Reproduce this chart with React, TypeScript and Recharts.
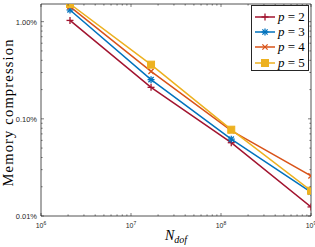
import { Legend, Line, LineChart, ReferenceArea, XAxis, YAxis } from 'recharts'

// problem sizes (degrees of freedom)
const nDof = [2.1e6, 1.67e7, 1.3e8, 1.0e9]

// memory compression in percent
const p2 = [1.03, 0.211, 0.0568, 0.0124]
const p3 = [1.32, 0.253, 0.0618, 0.0176]
const p4 = [1.43, 0.308, 0.0755, 0.0259]
const p5 = [1.52, 0.361, 0.0773, 0.0182]

const xMajor = [1e6, 1e7, 1e8, 1e9]
const yMajor = [0.01, 0.1, 1]
const yLabels = ['0.01%', '0.10%', '1.00%']

const minorOf = (majors: number[], top: number) => {
  const out: number[] = []
  majors.forEach((m) => {
    for (let k = 1; k < 10; k++) {
      const v = m * k
      if (v <= top + 1e-12) out.push(v)
    }
  })
  return out
}
const xTicks = minorOf(xMajor, 1e9)
const yTicks = minorOf(yMajor, 1.52)

const series = [
  { key: 'p2', label: '2', color: '#A2142F', shape: 'plus', values: p2 },
  { key: 'p3', label: '3', color: '#0072BD', shape: 'star', values: p3 },
  { key: 'p4', label: '4', color: '#D95319', shape: 'cross', values: p4 },
  { key: 'p5', label: '5', color: '#EDB120', shape: 'square', values: p5 },
]

const data = nDof.map((n, i) => {
  const row: Record<string, number> = { n }
  series.forEach((s) => {
    row[s.key] = s.values[i]
  })
  return row
})

const W = 315
const H = 247
const LEFT = 41
const RIGHT = 311
const TOP = 4
const BOTTOM = 216
const AXIS = '#262626'
const SANS = '"Liberation Sans", Arial, sans-serif'
const SERIF = '"Liberation Serif", "Times New Roman", serif'

function Marker({ cx, cy, shape, color }: { cx: number; cy: number; shape: string; color: string }) {
  const r = 3.5
  if (shape === 'square') {
    return <rect x={cx - r} y={cy - r} width={2 * r} height={2 * r} fill={color} stroke={color} />
  }
  const plus = (
    <>
      <line x1={cx - r} x2={cx + r} y1={cy} y2={cy} />
      <line x1={cx} x2={cx} y1={cy - r} y2={cy + r} />
    </>
  )
  const d = r * 0.75
  const cross = (
    <>
      <line x1={cx - d} x2={cx + d} y1={cy - d} y2={cy + d} />
      <line x1={cx - d} x2={cx + d} y1={cy + d} y2={cy - d} />
    </>
  )
  return (
    <g stroke={color} strokeWidth={1.3} fill="none">
      {shape !== 'cross' && plus}
      {shape !== 'plus' && cross}
    </g>
  )
}

function XTick({ x, payload }: any) {
  const v = payload.value as number
  const major = xMajor.some((m) => Math.abs(m - v) / m < 1e-9)
  const len = major ? 3 : 1.6
  return (
    <g stroke={AXIS} strokeWidth={0.6}>
      <line x1={x} x2={x} y1={BOTTOM} y2={BOTTOM - len} />
      <line x1={x} x2={x} y1={TOP} y2={TOP + len} />
      {major && (
        <text x={x} y={BOTTOM + 12} textAnchor="middle" fontSize={7} fill={AXIS} stroke="none" fontFamily={SANS}>
          10
          <tspan dy={-3} fontSize={5}>
            {Math.round(Math.log10(v))}
          </tspan>
        </text>
      )}
    </g>
  )
}

function YTick({ y, payload }: any) {
  const v = payload.value as number
  const idx = yMajor.findIndex((m) => Math.abs(m - v) / m < 1e-9)
  const len = idx >= 0 ? 3 : 1.6
  return (
    <g stroke={AXIS} strokeWidth={0.6}>
      <line x1={LEFT} x2={LEFT + len} y1={y} y2={y} />
      <line x1={RIGHT} x2={RIGHT - len} y1={y} y2={y} />
      {idx >= 0 && (
        <text x={LEFT - 4} y={y + 3} textAnchor="end" fontSize={7.5} fill={AXIS} stroke="none" fontFamily={SANS}>
          {yLabels[idx]}
        </text>
      )}
    </g>
  )
}

function LegendBox() {
  return (
    <div
      style={{
        width: 58,
        height: 66,
        border: `1px solid ${AXIS}`,
        background: '#fff',
        boxSizing: 'border-box',
        paddingTop: 3,
      }}
    >
      {series.map((s) => (
        <div key={s.key} style={{ display: 'flex', alignItems: 'center', height: 15.3 }}>
          <svg width={24} height={12} style={{ marginLeft: 2 }}>
            <line x1={1} x2={21} y1={6} y2={6} stroke={s.color} strokeWidth={1.5} />
            <Marker cx={11} cy={6} shape={s.shape} color={s.color} />
          </svg>
          <span style={{ fontFamily: SERIF, fontSize: 13, color: '#000', whiteSpace: 'nowrap' }}>
            <i>p</i> = {s.label}
          </span>
        </div>
      ))}
    </div>
  )
}

export default function App() {
  return (
    <div style={{ position: 'absolute', left: 0, top: 0, width: W, height: H, background: '#fff' }}>
      <LineChart width={W} height={H} data={data} margin={{ top: TOP, right: W - RIGHT, left: 0, bottom: 0 }}>
        <XAxis
          dataKey="n"
          type="number"
          scale="log"
          domain={[1e6, 1e9]}
          allowDataOverflow
          ticks={xTicks}
          interval={0}
          tick={<XTick />}
          tickLine={false}
          axisLine={false}
          height={H - BOTTOM}
          label={{
            content: () => (
              <text x={176} y={240} textAnchor="middle" fontFamily={SERIF} fontSize={14} fontStyle="italic" fill="#000">
                N
                <tspan dy={3} fontSize={10}>
                  dof
                </tspan>
              </text>
            ),
          }}
        />
        <YAxis
          type="number"
          scale="log"
          domain={[0.01, 1.52]}
          allowDataOverflow
          ticks={yTicks}
          interval={0}
          tick={<YTick />}
          tickLine={false}
          axisLine={false}
          width={LEFT}
          label={{
            content: () => (
              <text
                x={0}
                y={0}
                transform={`translate(12.5, 113) rotate(-90)`}
                textAnchor="middle"
                fontFamily={SERIF}
                fontSize={14.5}
                fill="#000"
                textLength={147}
                lengthAdjust="spacing"
              >
                Memory compression
              </text>
            ),
          }}
        />
        <ReferenceArea x1={1e6} x2={1e9} y1={0.01} y2={1.52} fill="none" stroke={AXIS} strokeWidth={0.8} ifOverflow="visible" />
        {series.map((s) => (
          <Line
            key={s.key}
            dataKey={s.key}
            stroke={s.color}
            strokeWidth={1.5}
            isAnimationActive={false}
            dot={(props: any) => <Marker key={`${s.key}-${props.index}`} cx={props.cx} cy={props.cy} shape={s.shape} color={s.color} />}
            activeDot={false}
          />
        ))}
        <Legend
          layout="vertical"
          align="center"
          verticalAlign="middle"
          content={() => <LegendBox />}
          wrapperStyle={{ position: 'absolute', left: 251, top: 5, width: 58, height: 66, margin: 0 }}
        />
      </LineChart>
    </div>
  )
}
